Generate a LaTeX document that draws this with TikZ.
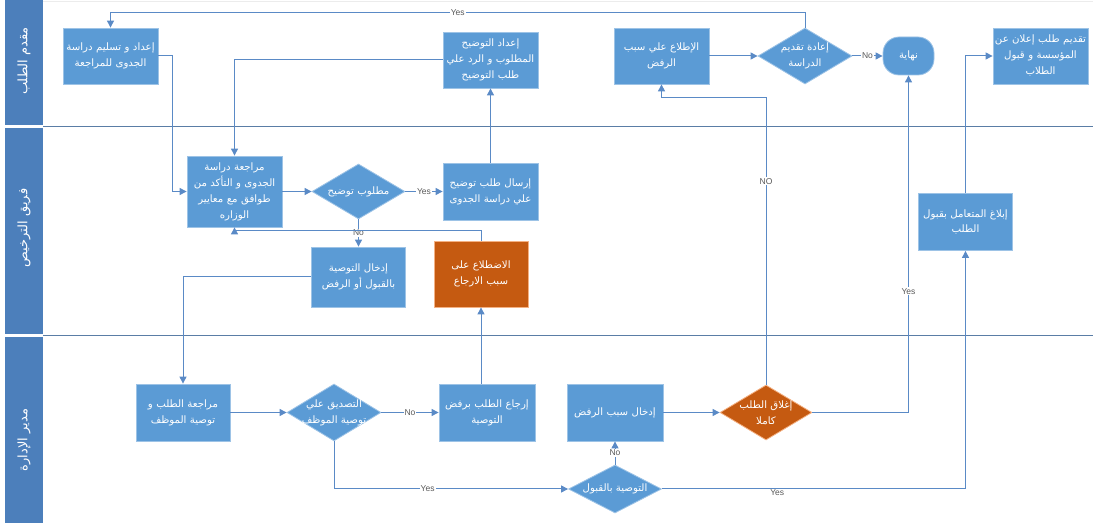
\documentclass[tikz,border=0pt]{standalone}
\usepackage{fontspec}
\setmainfont{Liberation Sans}
\newfontfamily\arabicfont[Script=Arabic]{DejaVu Sans}
\TeXXeTstate=1
\usetikzlibrary{shapes.geometric,arrows.meta}
\newcommand\AR[1]{\beginR #1\endR}
\definecolor{boxblue}{HTML}{5B9BD5}
\definecolor{boxedge}{HTML}{9DC3E6}
\definecolor{orng}{HTML}{C55A11}
\definecolor{orngedge}{HTML}{F4B183}
\definecolor{lanehead}{HTML}{4C7FBB}
\definecolor{flow}{HTML}{5A8AC6}
\definecolor{laneline}{HTML}{5A7DA6}
\definecolor{lblcol}{HTML}{595959}
\tikzset{
  boxnode/.style={rectangle, fill=boxblue, draw=boxedge, line width=0.8pt,
    minimum width=95pt, minimum height=56pt, text width=94pt, align=center,
    inner sep=0pt, text=white, font=\arabicfont\fontsize{10.2}{16}\selectfont},
  orbox/.style={boxnode, fill=orng, draw=orngedge},
  dianode/.style={diamond, fill=boxblue, draw=boxedge, line width=0.8pt,
    inner sep=0pt, minimum width=94pt, minimum height=56pt},
  ordia/.style={dianode, fill=orng, draw=orngedge},
  dtext/.style={align=center, text=white, inner sep=0pt,
    font=\arabicfont\fontsize{10.2}{16}\selectfont},
  endnode/.style={rectangle, rounded corners=16pt, fill=boxblue, draw=boxedge,
    line width=0.8pt, minimum width=51pt, minimum height=38pt, inner sep=0pt,
    text=white, font=\arabicfont\fontsize{10.2}{16}\selectfont},
  flw/.style={draw=flow, line width=1pt, -{Triangle[length=7pt,width=7pt]}},
  lbl/.style={font=\fontsize{8.5}{10}\selectfont, text=lblcol, fill=white, inner sep=1pt},
  headtext/.style={rotate=90, text=white, font=\arabicfont\fontsize{13}{15}\selectfont},
}
\begin{document}
\begin{tikzpicture}[x=1pt,y=-1pt]
\useasboundingbox (0,0) rectangle (1093,526);
% lanes
\fill[lanehead] (5,0) rectangle (43,125.5);
\fill[lanehead] (5,128.5) rectangle (43,334.5);
\fill[lanehead] (5,337.5) rectangle (43,523);
\draw[gray!15, line width=1pt] (43,2) -- (1093,2);
\draw[laneline, line width=1pt] (43,127) -- (1093,127);
\draw[laneline, line width=1pt] (43,336) -- (1093,336);
\node[headtext] (h1) at (24,61) {\AR{مقدم الطلب}};
\node[headtext] (h2) at (24,228) {\AR{فريق الترخيص}};
\node[headtext] (h3) at (24,440) {\AR{مدير الإدارة}};
% lane 1
\node[boxnode] (A) at (110.5,56) {\AR{إعداد و تسليم دراسة}\\\AR{الجدوى للمراجعة}};
\node[boxnode] (E) at (490.5,60) {\AR{إعداد التوضيح}\\\AR{المطلوب و الرد علي}\\\AR{طلب التوضيح}};
\node[boxnode] (N) at (661.5,56) {\AR{الإطلاع علي سبب}\\\AR{الرفض}};
\node[dianode] (O) at (805,56) {};
\node[dtext] (Ot) at (O) {\AR{إعادة تقديم}\\\AR{الدراسة}};
\node[endnode] (P) at (908.5,56) {\AR{نهاية}};
\node[boxnode] (Q) at (1040.5,56) {\AR{تقديم طلب إعلان عن}\\\AR{المؤسسة و قبول}\\\AR{الطلاب}};
% lane 2
\node[boxnode, minimum height=71pt] (B) at (234.5,191.5) {\AR{مراجعة دراسة}\\\AR{الجدوى و التأكد من}\\\AR{طوافق مع معايير}\\\AR{الوزاره}};
\node[dianode, minimum width=93pt, minimum height=55pt] (C) at (358.5,191.5) {};
\node[dtext] (Ct) at (C) {\AR{مطلوب توضيح}};
\node[boxnode, minimum height=57pt] (D) at (490.5,191.5) {\AR{إرسال طلب توضيح}\\\AR{علي دراسة الجدوى}};
\node[boxnode, minimum width=94pt, minimum height=60pt] (F) at (358.5,277) {\AR{إدخال التوصية}\\\AR{بالقبول أو الرفض}};
\node[orbox, minimum width=94pt, minimum height=66pt] (G) at (481,274) {\AR{الاضطلاع على}\\\AR{سبب الارجاع}};
\node[boxnode, minimum width=94pt, minimum height=57pt] (R) at (965.5,222) {\AR{إبلاغ المتعامل بقبول}\\\AR{الطلب}};
% lane 3
\node[boxnode, minimum width=94pt, minimum height=57pt] (H) at (183,412.5) {\AR{مراجعة الطلب و}\\\AR{توصية الموظف}};
\node[dianode, minimum height=57pt] (I) at (334,412.5) {};
\node[dtext] (It) at (I) {\AR{التصديق علي}\\\AR{توصية الموظف}};
\node[boxnode, minimum width=96pt, minimum height=57pt] (J) at (487,412.5) {\AR{إرجاع الطلب برفض}\\\AR{التوصية}};
\node[boxnode, minimum width=96pt, minimum height=57pt] (K) at (615,412.5) {\AR{إدخال سبب الرفض}};
\node[dianode, minimum width=93pt, minimum height=48pt] (L) at (615,489) {};
\node[dtext] (Lt) at (L) {\AR{التوصية بالقبول}};
\node[ordia, minimum width=92pt, minimum height=55pt] (M) at (766,412.5) {};
\node[dtext] (Mt) at (M) {\AR{إغلاق الطلب}\\\AR{كاملا}};
% connectors
\draw[flw] (O.north) -- (O.north |- 0,13) -- node[lbl]{Yes} (A.north |- 0,13) -- (A.north);
\draw[flw] (A.east) -- ++(14,0) |- (B.west);
\draw[flw] (E.west) -| (B.north);
\draw[flw] (B.east) -- (C.west);
\draw[flw] (C.east) -- node[lbl]{Yes} (D.west);
\draw[flw] (D.north) -- (E.south);
\draw[flw] (C.south) -- node[lbl]{No} (F.north);
\draw[flw] (G.north) -- ++(0,-10) -| (B.south);
\draw[flw] (F.west) -| (H.north);
\draw[flw] (H.east) -- (I.west);
\draw[flw] (I.east) -- node[lbl]{No} (J.west);
\draw[flw] (J.north -| G.south) -- (G.south);
\draw[flw] (I.south) |- node[lbl, pos=0.7]{Yes} (L.west);
\draw[flw] (L.north) -- node[lbl]{No} (K.south);
\draw[flw] (K.east) -- (M.west);
\draw[flw] (M.north) -- node[lbl, pos=0.71]{NO} (M.north |- 0,98) -| (N.south);
\draw[flw] (M.east) -| node[lbl, pos=0.68]{Yes} (P.south);
\draw[flw] (L.east) -| node[lbl, pos=0.19, yshift=-4pt, fill=none]{Yes} (R.south);
\draw[flw] (R.north) |- (Q.west);
\draw[flw] (N.east) -- (O.west);
\draw[flw] (O.east) -- node[lbl]{No} (P.west);
\end{tikzpicture}
\end{document}
